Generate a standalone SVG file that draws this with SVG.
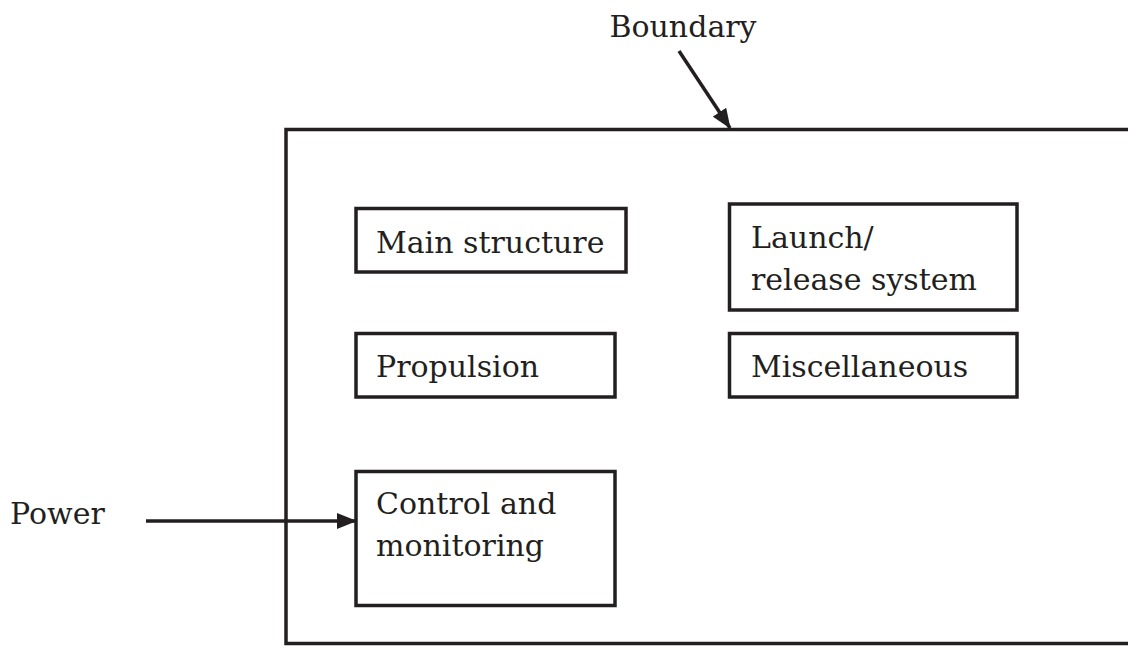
<svg xmlns="http://www.w3.org/2000/svg" width="1128" height="646" viewBox="0 0 1128 646">
<style>
text{font-family:"DejaVu Serif","Liberation Serif",serif;font-size:30px;fill:#231f20}
.box{fill:#fff;stroke:#231f20;stroke-width:3.5}
.ln{fill:none;stroke:#231f20;stroke-width:3.5}
</style>
<defs>
<marker id="ah" markerUnits="userSpaceOnUse" markerWidth="20" markerHeight="16" refX="19" refY="8" orient="auto">
<path d="M0,0 L20,8 L0,16 Z" fill="#231f20"/>
</marker>
</defs>
<rect width="1128" height="646" fill="#fff"/>
<g id="boundary">
<path class="ln" d="M1130,129.5 H286 V643.5 H1130" stroke-width="3"/>
<text x="683" y="37" text-anchor="middle">Boundary</text>
</g>
<g id="main-structure">
<rect class="box" x="356" y="208.5" width="270" height="63.5"/>
<text x="376" y="253">Main structure</text>
</g>
<g id="launch-release">
<rect class="box" x="729.5" y="204" width="287.5" height="106"/>
<text x="751" y="248">Launch/</text>
<text x="751" y="290">release system</text>
</g>
<g id="propulsion">
<rect class="box" x="356" y="333.5" width="259" height="63.5"/>
<text x="376" y="377">Propulsion</text>
</g>
<g id="miscellaneous">
<rect class="box" x="729.5" y="333.5" width="287.5" height="63.5"/>
<text x="751" y="377">Miscellaneous</text>
</g>
<g id="control-monitoring">
<rect class="box" x="356" y="471.5" width="259" height="134"/>
<text x="376" y="514">Control and</text>
<text x="376" y="556">monitoring</text>
</g>
<g id="power">
<text x="10" y="524">Power</text>
</g>
<g id="connectors">
<line class="ln" x1="146" y1="521" x2="356" y2="521" marker-end="url(#ah)"/>
<line class="ln" x1="679" y1="51" x2="730" y2="128" marker-end="url(#ah)"/>
</g>
</svg>
